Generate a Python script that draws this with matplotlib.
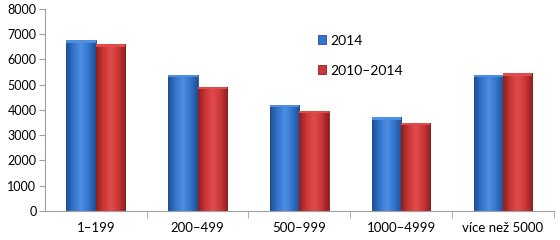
import numpy as np
import matplotlib
matplotlib.use('Agg')
import matplotlib.pyplot as plt
from matplotlib.colors import LinearSegmentedColormap

categories = ['1–199', '200–499', '500–999', '1000–4999', 'více než 5000']
labels = ['2014', '2010–2014']
v2014 = [6750, 5400, 4200, 3700, 5400]
v2010_2014 = [6600, 4900, 3950, 3500, 5450]

plt.rcParams['font.family'] = ['Lato', 'DejaVu Sans']

fig = plt.figure(figsize=(5.6, 2.4), dpi=100)
ax = fig.add_axes([0.080, 0.121, 0.909, 0.842])

x = np.arange(len(categories))
w = 0.288
cols = [('#3274cc', '#4f8fe2', '#1f4f94'), ('#cc3636', '#e04c4c', '#8e2020')]

for k, vals in enumerate([v2014, v2010_2014]):
    base, light, dark = cols[k]
    pos = x - w / 2 + k * w
    bars = ax.bar(pos, vals, width=w, color=base, edgecolor=dark, linewidth=0.6,
                  label=labels[k], zorder=2)
    # simple left-right shading to mimic the bevelled look
    cmap = LinearSegmentedColormap.from_list('g', [dark, base, light, base, dark])
    grad = np.linspace(0, 1, 64).reshape(1, -1)
    for b in bars:
        im = ax.imshow(grad, cmap=cmap, aspect='auto', zorder=2.5,
                       extent=[b.get_x(), b.get_x() + b.get_width(), 0, b.get_height()])
        im.set_clip_path(b)
        # lighter cap on top
        ax.bar(b.get_x() + b.get_width() / 2, 90, bottom=b.get_height() - 90,
               width=b.get_width(), color=light, linewidth=0, zorder=3)

ax.set_xlim(-0.5, len(categories) - 0.5)
ax.set_ylim(0, 8000)
ax.set_yticks(np.arange(0, 8001, 1000))
ax.set_xticks(x)
ax.set_xticklabels(categories, fontsize=9.5)
ax.set_xticks(np.arange(0.5, len(categories), 1), minor=True)
ax.tick_params(axis='x', which='major', length=0, pad=8)
ax.tick_params(axis='x', which='minor', length=5, color='#a0a0a0', direction='out')
ax.tick_params(axis='y', labelsize=9, length=4, color='#a0a0a0', pad=2)

for s in ['top', 'right']:
    ax.spines[s].set_visible(False)
for s in ['left', 'bottom']:
    ax.spines[s].set_color('#a0a0a0')
    ax.spines[s].set_linewidth(0.8)

ax.legend(loc='upper left', bbox_to_anchor=(0.512, 0.935), frameon=False, fontsize=10,
          handlelength=0.6, handleheight=0.6, handletextpad=0.3, labelspacing=1.3)

fig.savefig('out.png', dpi=100)
